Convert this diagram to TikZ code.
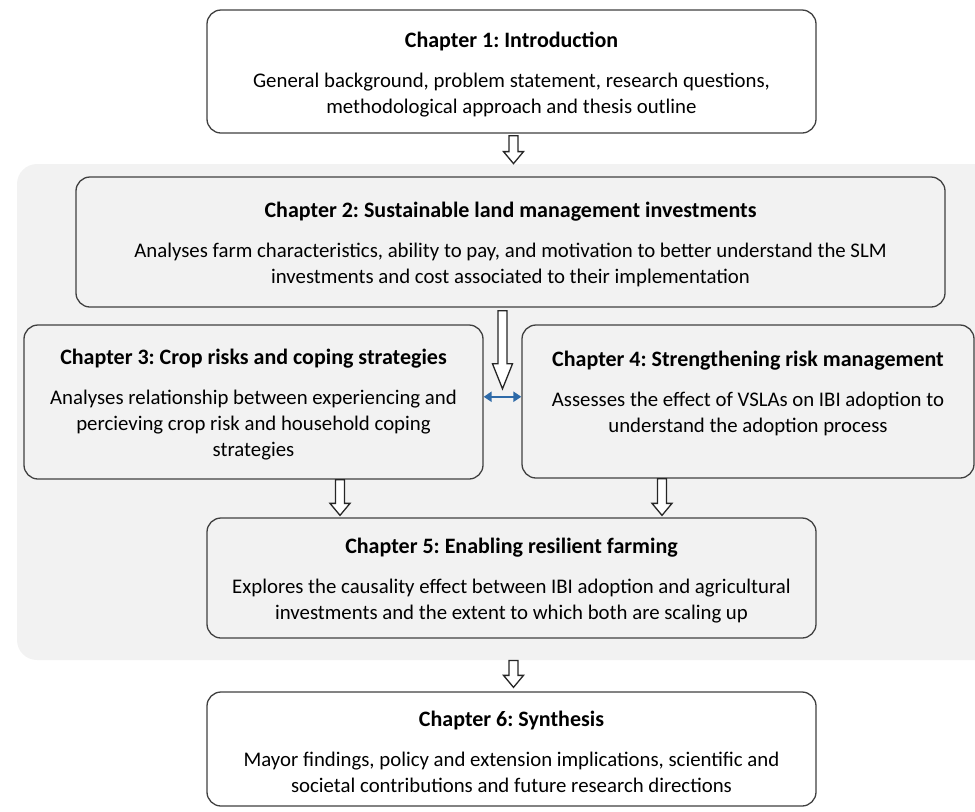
\documentclass[tikz,border=0pt]{standalone}
\usepackage{fontspec}
\setmainfont{Carlito}
\frenchspacing
\usetikzlibrary{calc,arrows.meta}

\definecolor{thesisline}{HTML}{404040}
\definecolor{thesisfill}{HTML}{F2F2F2}
\definecolor{thesisblue}{HTML}{2E6AA8}
\definecolor{thesisdark}{HTML}{262626}

% chapter title line, with some room above it
\newcommand{\chaptitle}[1]{{\fontsize{11}{13}\selectfont\bfseries\rule{0pt}{10.5pt}#1}}

% hollow block arrow: [head length]{from}{to}
\newcommand{\hollowarrow}[3][6pt]{%
  \draw[hollowarr] let \p1=(#2), \p2=(#3) in
    (\x1-2.25pt,\y1) -- (\x1-2.25pt,\y2+#1) -- (\x1-5pt,\y2+#1) -- (\x1,\y2)
    -- (\x1+5pt,\y2+#1) -- (\x1+2.25pt,\y2+#1) -- (\x1+2.25pt,\y1) -- cycle;}

\begin{document}
\begin{tikzpicture}[x=0.5pt,y=-0.5pt,
  chapbox/.style={draw=thesisline, line width=0.65pt, rounded corners=7pt,
    inner sep=0pt, align=center, text=black,
    font=\fontsize{10.4}{13}\selectfont},
  hollowarr/.style={draw=thesisdark, line width=0.65pt, fill=white, line join=miter},
  linkarr/.style={draw=thesisblue, line width=1pt,
    {Triangle[length=4pt,width=5pt]}-{Triangle[length=4pt,width=5pt]}}]
\useasboundingbox (0,0) rectangle (975,811);
\clip (0,0) rectangle (975,811);

\node[fill=thesisfill, rounded corners=10pt, inner sep=0pt,
      minimum width=489pt, minimum height=248pt] (panel) at (506,412) {};

\node[chapbox, fill=white, minimum width=304.5pt, minimum height=61.5pt] (ch1) at (511.5,71.5) {%
\chaptitle{Chapter 1: Introduction}\\[7pt]
General background, problem statement, research questions,\\
methodological approach and thesis outline};

\node[chapbox, fill=thesisfill, minimum width=434.5pt, minimum height=65pt] (ch2) at (510.5,242) {%
\chaptitle{Chapter 2: Sustainable land management investments}\\[7pt]
Analyses farm characteristics, ability to pay, and motivation to better understand the SLM\\
investments and cost associated to their implementation};

\node[chapbox, fill=thesisfill, minimum width=229.5pt, minimum height=77pt] (ch3) at (253.5,402) {%
\chaptitle{Chapter 3: Crop risks and coping strategies}\\[7pt]
Analyses relationship between experiencing and\\
percieving crop risk and household coping\\
strategies};

\node[chapbox, fill=thesisfill, minimum width=226pt, minimum height=76.5pt] (ch4) at (748,401.5) {%
\chaptitle{Chapter 4: Strengthening risk management}\\[7pt]
Assesses the effect of VSLAs on IBI adoption to\\
understand the adoption process\\
\mbox{}};

\node[chapbox, fill=thesisfill, minimum width=304.5pt, minimum height=60pt] (ch5) at (511.5,578) {%
\chaptitle{Chapter 5: Enabling resilient farming}\\[7pt]
Explores the causality effect between IBI adoption and agricultural\\
investments and the extent to which both are scaling up};

\node[chapbox, fill=white, minimum width=304.5pt, minimum height=57pt] (ch6) at (511.5,749) {%
\chaptitle{Chapter 6: Synthesis}\\[7pt]
Mayor findings, policy and extension implications, scientific and\\
societal contributions and future research directions};

% connectors
\coordinate (mid34) at ($(ch3.east)!0.5!(ch4.west)$);
\hollowarrow{[xshift=1pt,yshift=-1pt]ch1.south}{panel.north}
\hollowarrow[12.5pt]{[yshift=-1.5pt]mid34 |- ch2.south}{[yshift=6.5pt]mid34}
\draw[linkarr] ([yshift=2.5pt]ch3.east |- mid34) -- ([yshift=2.5pt]ch4.west |- mid34);
\hollowarrow{[xshift=43.25pt]ch3.south}{[yshift=1pt]ch5.north}
\hollowarrow{[xshift=-43pt]ch4.south}{[yshift=1pt]ch5.north}
\hollowarrow{[xshift=1pt]ch5.south |- panel.south}{[yshift=2pt]ch6.north}
\end{tikzpicture}
\end{document}
